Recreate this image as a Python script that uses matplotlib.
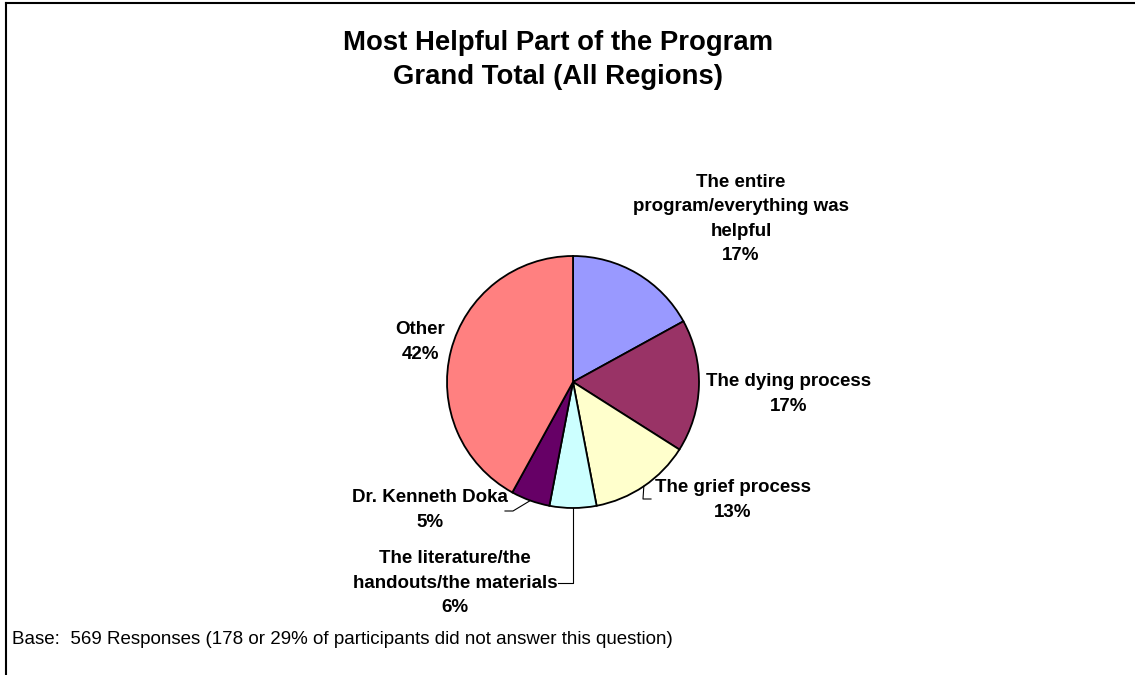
import matplotlib
matplotlib.use("Agg")
import matplotlib.pyplot as plt
import numpy as np

plt.rcParams["font.family"] = ["Liberation Sans", "DejaVu Sans"]

categories = [
    "The entire\nprogram/everything was\nhelpful",
    "The dying process",
    "The grief process",
    "The literature/the\nhandouts/the materials",
    "Dr. Kenneth Doka",
    "Other",
]
shares = [17, 17, 13, 6, 5, 42]
colors = ["#9999FF", "#993366", "#FFFFCC", "#CCFFFF", "#660066", "#FF8080"]

title = "Most Helpful Part of the Program\nGrand Total (All Regions)"
footnote = "Base:  569 Responses (178 or 29% of participants did not answer this question)"

W, H = 1135, 675
fig = plt.figure(figsize=(W / 100, H / 100), dpi=100)

# pie axes: centre (573, 382) px, radius 126 px, limits +-2
cx, cy, r = 573, 382, 126
half = 2 * r
ax = fig.add_axes([(cx - half) / W, (H - cy - half) / H, 2 * half / W, 2 * half / H])

wedges, _ = ax.pie(shares, colors=colors, startangle=90, counterclock=False,
                   radius=1.0, wedgeprops=dict(edgecolor="black", linewidth=1.3))
ax.set_xlim(-2, 2)
ax.set_ylim(-2, 2)
ax.set_aspect("equal")
ax.axis("off")

# label centres in px (x, y from top)
label_px = [(741, 219), (789, 394), (733, 500), (455, 583), (430, 510), (420, 342)]

def to_data(px, py):
    return (px - cx) / r, (cy - py) / r

for name, val, (px, py) in zip(categories, shares, label_px):
    x, y = to_data(px, py)
    ax.text(x, y, f"{name}\n{val}%", ha="center", va="center",
            fontsize=13.5, fontweight="bold", linespacing=1.56, clip_on=False)

def edge_point(i, frac=1.0):
    w = wedges[i]
    ang = np.deg2rad((w.theta1 + w.theta2) / 2)
    return frac * np.cos(ang), frac * np.sin(ang)

lk = dict(color="black", linewidth=0.8, clip_on=False)

# grief process leader
ex, ey = edge_point(2, 1.0)
p1 = to_data(643, 499)
p2 = to_data(651, 499)
ax.plot([ex, p1[0], p2[0]], [ey, p1[1], p2[1]], **lk)

# literature leader
ex, ey = edge_point(3, 1.0)
p1 = (ex, to_data(0, 583)[1])
p2 = to_data(558, 583)
ax.plot([ex, p1[0], p2[0]], [ey, p1[1], p2[1]], **lk)

# Doka leader
ex, ey = edge_point(4, 1.0)
p1 = to_data(513, 511)
p2 = to_data(505, 511)
ax.plot([ex, p1[0], p2[0]], [ey, p1[1], p2[1]], **lk)

fig.text(558 / W, 1 - 60 / H, title, ha="center", va="center",
         fontsize=19.8, fontweight="bold", linespacing=1.4)
fig.text(12 / W, 1 - 640 / H, footnote, ha="left", va="center", fontsize=13.5)

# frame lines along the left and top edges
fig.add_artist(plt.Line2D([6 / W, 6 / W], [0, 1 - 3 / H], transform=fig.transFigure,
                          color="black", linewidth=1.5))
fig.add_artist(plt.Line2D([6 / W, 1], [1 - 3 / H, 1 - 3 / H], transform=fig.transFigure,
                          color="black", linewidth=1.5))

fig.savefig("out.png", dpi=100)
